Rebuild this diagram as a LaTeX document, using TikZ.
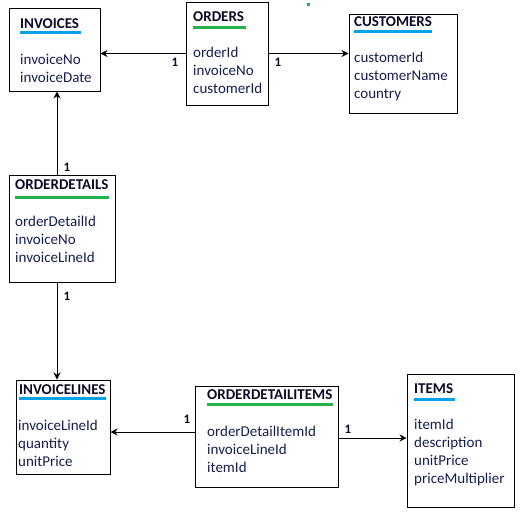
\documentclass[tikz,border=0pt]{standalone}
\usepackage{fontspec}
\setmainfont{Carlito}
\usetikzlibrary{arrows.meta}
\definecolor{txtblue}{RGB}{20,30,80}
\definecolor{ttlblack}{RGB}{10,10,40}
\definecolor{lineblue}{RGB}{0,162,232}
\definecolor{linegreen}{RGB}{34,177,76}
\tikzset{
  tbl/.style={draw, line width=1pt, inner sep=0pt},
  ttl/.style={anchor=base west, inner sep=0pt, font=\bfseries\fontsize{15}{18}\selectfont, text=ttlblack},
  fld/.style={anchor=base west, inner sep=0pt, font=\fontsize{15}{18}\selectfont, text=txtblue},
  one/.style={inner sep=0pt, font=\bfseries\fontsize{13}{15}\selectfont, text=ttlblack},
  link/.style={line width=1pt, -{Stealth[length=7pt,width=7pt]}},
  ulblue/.style={lineblue, line width=3pt},
  ulgreen/.style={linegreen, line width=3pt},
}
\begin{document}
\begin{tikzpicture}[x=1pt,y=-1pt]
    \useasboundingbox (0,0) rectangle (526,517);

    %tables
    \node[tbl, minimum width=91pt, minimum height=83pt] (invoices) at (54.5,49.5) {};
    \node[tbl, minimum width=82pt, minimum height=103pt] (orders) at (227,53.5) {};
    \node[tbl, minimum width=108pt, minimum height=99pt] (customers) at (403,63.5) {};
    \node[tbl, minimum width=106pt, minimum height=107pt] (odetails) at (62,228.5) {};
    \node[tbl, minimum width=94pt, minimum height=94pt] (invlines) at (63,427) {};
    \node[tbl, minimum width=143pt, minimum height=101pt] (odi) at (266.5,436.5) {};
    \node[tbl, minimum width=107pt, minimum height=133pt] (items) at (460.5,440.5) {};

    %titles
    \node[ttl] (invoicesT) at (20,28) {INVOICES};
    \draw[ulblue] ([yshift=-4pt]invoicesT.base west) -- ([yshift=-4pt,xshift=2pt]invoicesT.base east);
    \node[ttl] (ordersT) at (193,21) {ORDERS};
    \draw[ulgreen] ([yshift=-6pt]ordersT.base west) -- ([yshift=-6pt,xshift=2pt]ordersT.base east);
    \node[ttl] (customersT) at (354,26) {CUSTOMERS};
    \draw[ulblue] ([yshift=-5pt]customersT.base west) -- ([yshift=-5pt]customersT.base east);
    \node[ttl] (odetailsT) at (15,189) {ORDERDETAILS};
    \draw[ulgreen] ([yshift=-8pt]odetailsT.base west) -- ([yshift=-8pt]odetailsT.base east);
    \node[ttl] (invlinesT) at (19,394) {INVOICELINES};
    \draw[ulblue] ([yshift=-4pt]invlinesT.base west) -- ([yshift=-4pt]invlinesT.base east);
    \node[ttl] (odiT) at (207,399) {ORDERDETAILITEMS};
    \draw[ulgreen] ([yshift=-5pt]odiT.base west) -- ([yshift=-5pt]odiT.base east);
    \node[ttl] (itemsT) at (414,393) {ITEMS};
    \draw[ulblue] ([yshift=-6pt]itemsT.base west) -- ([yshift=-6pt,xshift=2pt]itemsT.base east);

    %fields
    \foreach \f [count=\i] in {invoiceNo,invoiceDate}
        \node[fld] (invoices-\i) at (20,46+18*\i) {\f};
    \foreach \f [count=\i] in {orderId,invoiceNo,customerId}
        \node[fld] (orders-\i) at (193,39.5+18*\i) {\f};
    \foreach \f [count=\i] in {customerId,customerName,country}
        \node[fld] (customers-\i) at (354,44+18*\i) {\f};
    \foreach \f [count=\i] in {orderDetailId,invoiceNo,invoiceLineId}
        \node[fld] (odetails-\i) at (15,208+18*\i) {\f};
    \foreach \f [count=\i] in {invoiceLineId,quantity,unitPrice}
        \node[fld] (invlines-\i) at (18,412+18*\i) {\f};
    \foreach \f [count=\i] in {orderDetailItemId,invoiceLineId,itemId}
        \node[fld] (odi-\i) at (207,418+18*\i) {\f};
    \foreach \f [count=\i] in {itemId,description,unitPrice,priceMultiplier}
        \node[fld] (items-\i) at (414,411+18*\i) {\f};

    %links
    \draw[link] (orders.west) -- (orders.west -| invoices.east);
    \draw[link] (orders.east) -- (orders.east -| customers.west);
    \draw[link] ([xshift=-5pt]odetails.north) -- ([xshift=-5pt]odetails.north |- invoices.south);
    \draw[link] ([xshift=-5pt]odetails.south) -- ([xshift=-5pt]odetails.south |- invlines.north);
    \draw[link] ([yshift=4.5pt]odi.west) -- ([yshift=4.5pt]odi.west -| invlines.east);
    \draw[link] ([yshift=-1.5pt]odi.east) -- ([yshift=-1.5pt]odi.east -| items.west);

    %cardinalities
    \node[one] (c1) at (175,62) {1};
    \node[one] (c2) at (278,62) {1};
    \node[one] (c3) at (67,167) {1};
    \node[one] (c4) at (67,296) {1};
    \node[one] (c5) at (187,419) {1};
    \node[one] (c6) at (348,429) {1};

    \fill[linegreen] (306.5,2.5) rectangle (309.5,5.5);
\end{tikzpicture}
\end{document}
